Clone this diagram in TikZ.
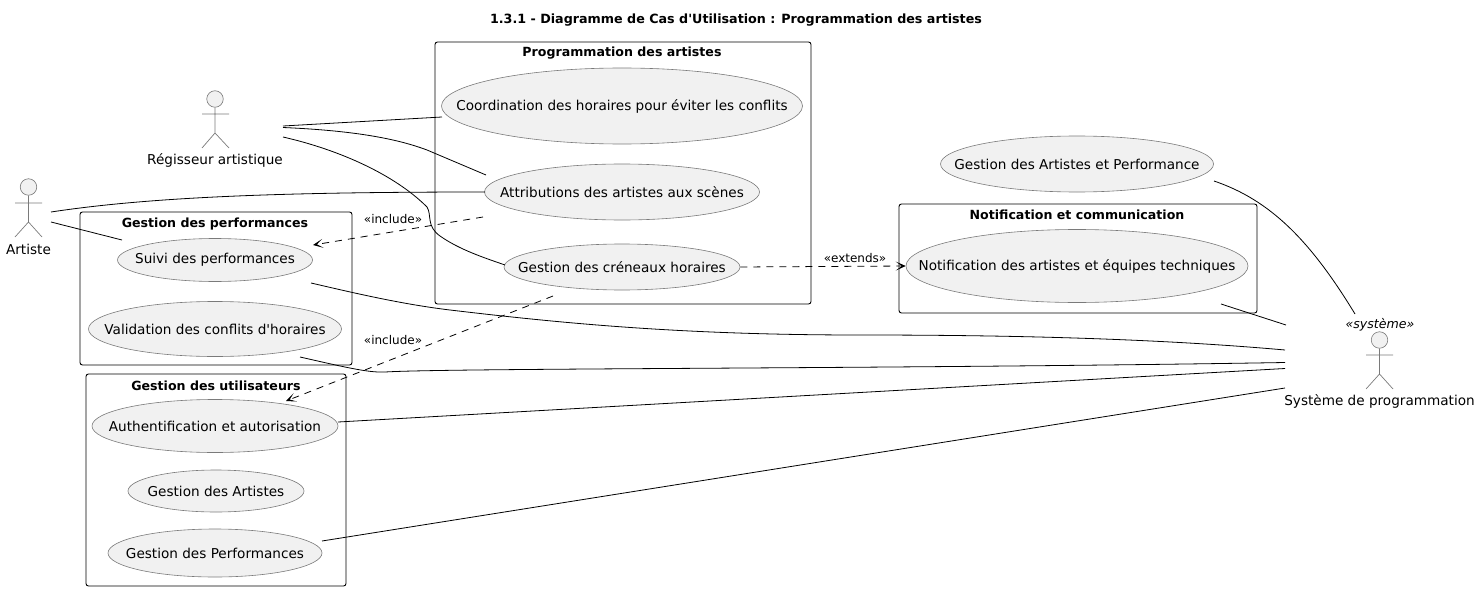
\documentclass[tikz,border=0pt]{standalone}
\usepackage{fontspec}
\setmainfont{DejaVu Sans}[Ligatures=TeXOff]
\usetikzlibrary{arrows.meta,shapes.geometric}
\definecolor{ufill}{HTML}{F1F1F1}
\definecolor{uline}{HTML}{7A7A7A}
\newcommand{\ufont}{\fontsize{13.6}{16}\selectfont}
\newcommand{\tfont}{\fontsize{12.6}{15}\selectfont}
\newcommand{\uc}[1]{\makebox[0pt][c]{\raisebox{-1pt}{#1}}}
\tikzset{
  usecase/.style={ellipse,draw=uline,fill=ufill,line width=.6pt,inner sep=0pt,minimum width=#1,font=\ufont},
  pkg/.style={draw=black,rounded corners=2.5pt,line width=.9pt},
  pkgtitle/.style={font=\tfont\bfseries,inner sep=0pt},
  lbl/.style={font=\ufont,inner sep=0pt},
  smalllbl/.style={font=\fontsize{12}{14}\selectfont,inner sep=0pt},
  assoc/.style={draw=black,line width=.8pt},
  dep/.style={draw=black,line width=.8pt,dash pattern=on 7pt off 6pt,-{Stealth[length=10pt,width=9pt,inset=6pt,sep=0pt]}},
  actorhead/.style={circle,draw=uline,fill=ufill,line width=.6pt,minimum size=16.5pt,inner sep=0pt},
  actorline/.style={draw=uline,line width=.7pt}
}
\begin{document}
\begin{tikzpicture}[x=1pt,y=-1pt]
\useasboundingbox (0,0) rectangle (1479,591);
\node[font=\fontsize{12.7}{15}\selectfont\bfseries,inner sep=0pt] (title) at (736,20) {1.3.1 - Diagramme de Cas d'Utilisation : Programmation des artistes};
% frames
\draw[pkg] (435,42) rectangle (811,304);
\draw[pkg] (80,212) rectangle (352,365);
\draw[pkg] (86,374) rectangle (346,586);
\draw[pkg] (899,204) rectangle (1257,313);
\node[pkgtitle] (tprog) at (622,53) {Programmation des artistes};
\node[pkgtitle] (tperf) at (215,224) {Gestion des performances};
\node[pkgtitle] (tutil) at (216,386) {Gestion des utilisateurs};
\node[pkgtitle] (tnotif) at (1077,215) {Notification et communication};
% use cases
\node[usecase=361pt,minimum height=76pt] (coord) at (622,106) {\uc{Coordination des horaires pour éviter les conflits}};
\node[usecase=275pt,minimum height=56pt] (attr) at (622,192) {\uc{Attributions des artistes aux scènes}};
\node[usecase=236pt,minimum height=46pt] (cren) at (622,267) {\uc{Gestion des créneaux horaires}};
\node[usecase=195pt,minimum height=43pt] (suivi) at (215,260) {\uc{Suivi des performances}};
\node[usecase=253pt,minimum height=55pt] (valid) at (215,329) {\uc{Validation des conflits d'horaires}};
\node[usecase=246pt,minimum height=53pt] (auth) at (215,426) {\uc{Authentification et autorisation}};
\node[usecase=176pt,minimum height=42pt] (garti) at (216,491) {\uc{Gestion des Artistes}};
\node[usecase=214pt,minimum height=48pt] (gperf) at (215,553) {\uc{Gestion des Performances}};
\node[usecase=342pt,minimum height=73pt] (notif) at (1077,266) {\uc{Notification des artistes et équipes techniques}};
\node[usecase=273pt,minimum height=56pt] (gap) at (1077,164) {\uc{Gestion des Artistes et Performance}};
% actors
\node[actorhead] (hreg) at (215,99) {};
\draw[actorline] (hreg.south) -- (215,133) (202,114) -- (229,114) (202,148) -- (215,133) -- (229,148);
\node[lbl] (reg) at (215,160) {Régisseur artistique};
\node[actorhead] (hart) at (28.5,187) {};
\draw[actorline] (hart.south) -- (28.5,222) (15,203) -- (42,203) (15,237) -- (28.5,222) -- (42,237);
\node[lbl] (art) at (28.5,249) {Artiste};
\node[actorhead] (hsys) at (1379.5,340) {};
\draw[actorline] (hsys.south) -- (1379.5,374) (1366,355) -- (1393,355) (1366,389) -- (1379.5,374) -- (1393,389);
\node[lbl] (sys) at (1379.5,401) {Système de programmation};
\node[inner sep=0pt,font=\tfont\itshape] (ster) at (1380,325) {«système»};
% anchors for connector ends
\coordinate (regA) at (283,126);
\coordinate (regB) at (283,127.5);
\coordinate (regC) at (283,137);
\coordinate (artA) at (51,212);
\coordinate (artB) at (51,222);
\coordinate (sysA) at (1286,325);
\coordinate (sysB) at (1285,350);
\coordinate (sysC) at (1285,362.5);
\coordinate (sysD) at (1285,368.5);
\coordinate (sysE) at (1285,388);
\coordinate (sysF) at (1355,314);
\coordinate (e1) at (442,117);
\coordinate (e2) at (486,175);
\coordinate (e3) at (505,265);
\coordinate (e4) at (485,192);
\coordinate (e5) at (122,240);
\coordinate (d1s) at (483,217);
\coordinate (d1e) at (313,245);
\coordinate (d2s) at (553,296);
\coordinate (d2e) at (286,401);
\coordinate (s1) at (311,283);
\coordinate (s2) at (300,357);
\coordinate (s3) at (338,422);
\coordinate (s4) at (322,541);
\coordinate (s5) at (1221,304);
\coordinate (s6) at (1214,181);
% associations
\draw[assoc] (regA) -- (e1);
\draw[assoc] (regB) .. controls (340,130) and (390,136) .. (427,150) -- (e2);
\draw[assoc] (regC) .. controls (340,150) and (395,175) .. (427,207) .. controls (432,215) and (426,226) .. (440,236) .. controls (460,250) and (485,258) .. (e3);
\draw[assoc] (artA) .. controls (150,197) and (280,192) .. (e4);
\draw[assoc] (artB) -- (e5);
\draw[assoc] (s1) .. controls (350,292) and (400,304) .. (450,310) .. controls (560,323) and (680,335) .. (860,335) .. controls (1000,335) and (1150,338) .. (sysB);
\draw[assoc] (s2) .. controls (340,366) and (368,373) .. (385,372) .. controls (450,368) and (900,369) .. (sysC);
\draw[assoc] (s3) -- (sysD);
\draw[assoc] (s4) -- (sysE);
\draw[assoc] (s5) -- (sysA);
\draw[assoc] (s6) .. controls (1270,200) and (1310,240) .. (sysF);
% dependencies
\draw[dep] (d1s) -- (d1e);
\draw[dep] (d2s) -- (d2e);
\draw[dep] (cren.east) -- (notif.west);
\node[smalllbl] (l1) at (393,219) {«include»};
\node[smalllbl] (l2) at (393,340) {«include»};
\node[smalllbl] (l3) at (855,258) {«extends»};
\end{tikzpicture}
\end{document}
